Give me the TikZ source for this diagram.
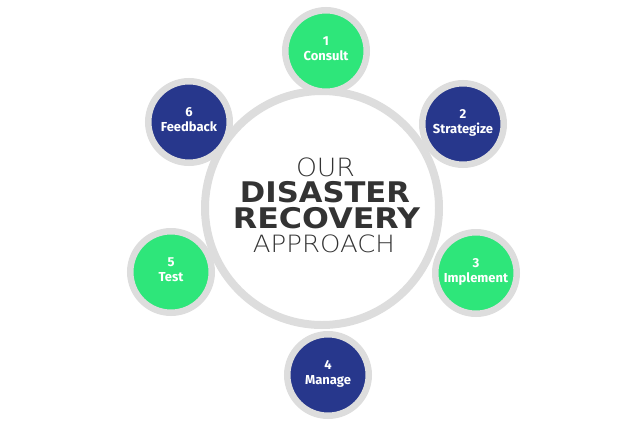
\documentclass[tikz,border=0pt]{standalone}
\usepackage{fontspec}
\setmainfont{Fira Sans}
\newfontfamily\heavyfont{DejaVu Sans}
\newfontfamily\thinfont{DejaVu Sans ExtraLight}
\usepackage{graphicx}

\definecolor{stepgreen}{RGB}{46,230,122}
\definecolor{stepnavy}{RGB}{39,55,140}
\definecolor{ringgray}{RGB}{221,221,221}
\definecolor{titlegray}{RGB}{51,51,51}

\begin{document}
\begin{tikzpicture}[x=1pt,y=-1pt,
    hub/.style={circle, draw=ringgray, line width=8pt, fill=white, minimum size=234pt, inner sep=0pt},
    stepdot/.style={circle, draw=ringgray, line width=6.5pt, minimum size=81.5pt, inner sep=0pt},
    steptxt/.style={text=white, inner sep=0pt, anchor=base, font=\fontsize{13}{15}\selectfont\bfseries},
    titletxt/.style={text=titlegray, inner sep=0pt}]
  \useasboundingbox (0,0) rectangle (640,426);
  % Central ring
  \node[hub] (centre) at (322,208) {};
  % Title
  \node[titletxt] (our) at (325.5,167) {\resizebox*{59pt}{19pt}{\thinfont OUR}};
  \node[titletxt] (disaster) at (325,192) {\resizebox*{170pt}{21.5pt}{\heavyfont\bfseries DISASTER}};
  \node[titletxt] (recovery) at (326.5,218) {\resizebox*{187pt}{21.5pt}{\heavyfont\bfseries RECOVERY}};
  \node[titletxt] (approach) at (324,244) {\resizebox*{142pt}{18pt}{\thinfont APPROACH}};
  % Six steps round the ring
  \foreach \cx/\cy/\num/\lbl/\col in {
      326/51/1/Consult/stepgreen,
      463/124/2/Strategize/stepnavy,
      476/273/3/Implement/stepgreen,
      328/375/4/Manage/stepnavy,
      171/272/5/Test/stepgreen,
      189/122/6/Feedback/stepnavy}{
    \node[stepdot, fill=\col] (step\num) at (\cx,\cy) {};
    \node[steptxt] (num\num) at ([yshift=5.5pt]step\num.center) {\num};
    \node[steptxt] (lbl\num) at ([yshift=-9pt]step\num.center) {\lbl};
  }
\end{tikzpicture}
\end{document}
